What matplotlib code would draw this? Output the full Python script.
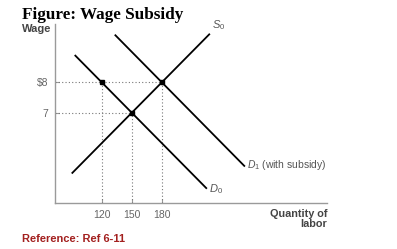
import matplotlib
matplotlib.use("Agg")
import matplotlib.pyplot as plt

plt.rcParams["font.family"] = ["Liberation Sans", "DejaVu Sans"]
plt.rcParams["mathtext.fontset"] = "custom"
plt.rcParams["mathtext.it"] = "Liberation Sans:italic"
plt.rcParams["mathtext.rm"] = "Liberation Sans"

# values
quantity_ticks = [120, 150, 180]
quantity_labels = ["120", "150", "180"]
wage_ticks = [7, 8]
wage_labels = ["7", "$8"]

s0_q = [90, 228]
s0_w = [5.0, 9.6]
d0_q = [93, 225]
d0_w = [8.9, 4.5]
d1_q = [133, 263]
d1_w = [9.57, 5.23]

eq_q = [120, 180, 150]
eq_w = [8, 8, 7]

W, H = 397, 249
fig = plt.figure(figsize=(W / 100, H / 100), dpi=100)
ax = fig.add_axes([55 / W, 1 - 203 / H, (327 - 55) / W, (203 - 24) / H])
ax.set_xlim(73.3, 345)
ax.set_ylim(4.03, 9.92)

for s in ["top", "right"]:
    ax.spines[s].set_visible(False)
for s in ["left", "bottom"]:
    ax.spines[s].set_color("#9a9a9a")
    ax.spines[s].set_linewidth(1.0)

ax.set_xticks(quantity_ticks, quantity_labels)
ax.set_yticks(wage_ticks, [w.replace("$", r"\$") for w in wage_labels])
ax.tick_params(axis="both", direction="in", length=3, width=0.8,
               color="#9a9a9a", labelsize=7.5, labelcolor="#666666", pad=5)

# dotted guide lines
xmin, ymin = ax.get_xlim()[0], ax.get_ylim()[0]
dots = dict(ls=(0, (1, 2)), color="#777777", lw=0.8)
for q, w in zip(eq_q, eq_w):
    ax.plot([q, q], [ymin, w], **dots)
ax.plot([xmin, 180], [8, 8], **dots)
ax.plot([xmin, 150], [7, 7], **dots)

# curves
ax.plot(s0_q, s0_w, color="black", lw=1.3, solid_capstyle="butt")
ax.plot(d0_q, d0_w, color="black", lw=1.3, solid_capstyle="butt")
ax.plot(d1_q, d1_w, color="black", lw=1.3, solid_capstyle="butt")
ax.plot(eq_q, eq_w, "s", color="black", ms=2.5, ls="none")

ax.text(s0_q[1] + 2, s0_w[1] + 0.05, r"$S_0$", fontsize=8, color="#555555",
        ha="left", va="bottom")
ax.text(d0_q[1] + 2, d0_w[1], r"$D_0$", fontsize=8, color="#555555",
        ha="left", va="center")
ax.text(d1_q[1] + 2, d1_w[1] + 0.05, r"$D_1$ (with subsidy)", fontsize=7.5,
        color="#555555", ha="left", va="center")

fig.text(22 / W, 1 - 15 / H, "Figure: Wage Subsidy", family="Liberation Serif",
         fontweight="bold", fontsize=12.3, ha="left", va="center")
fig.text(22 / W, 1 - 29 / H, "Wage", fontweight="bold", fontsize=8,
         color="#444444", ha="left", va="center")
fig.text(327 / W, 1 - 219 / H, "Quantity of\nlabor", fontweight="bold",
         fontsize=7.8, color="#444444", ha="right", va="center",
         multialignment="right", linespacing=1.0)
fig.text(22 / W, 1 - 239 / H, "Reference: Ref 6-11", fontweight="bold",
         fontsize=8, color="#a3201f", ha="left", va="center")

fig.savefig("out.png", dpi=100)
